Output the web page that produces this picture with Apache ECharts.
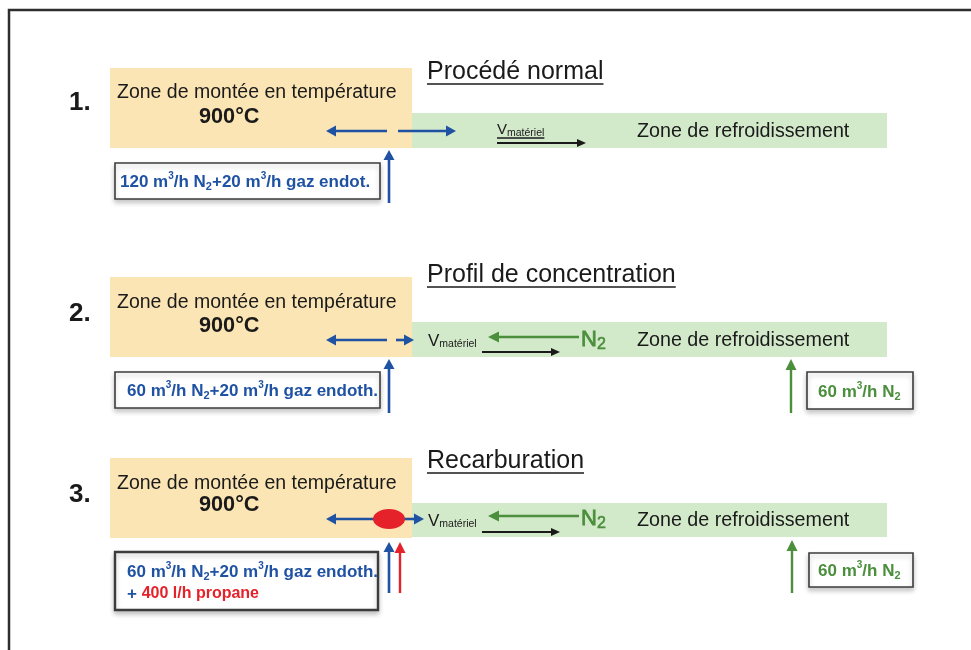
<!DOCTYPE html>
<html><head><meta charset="utf-8">
<script src="https://cdn.jsdelivr.net/npm/echarts@6/dist/echarts.min.js"></script>
<style>html,body{margin:0;padding:0;background:#fff}#c{width:971px;height:650px}</style>
</head><body><div id="c"></div>
<script>
// ---------- process data ----------
const panelNumbers = ['1.', '2.', '3.'];
const panelTitles = ['Procédé normal', 'Profil de concentration', 'Recarburation'];
const zoneHeatLabel = 'Zone de montée en température';
const zoneCoolLabel = 'Zone de refroidissement';
const heatTemperature = [900, 900, 900];          // °C
const n2Inlet = [120, 60, 60];                    // m³/h N2 (heating-zone inlet)
const endoGas = [20, 20, 20];                     // m³/h endothermic gas
const endoSuffix = ['gaz endot.', 'gaz endoth.', 'gaz endoth.'];
const propane = [null, null, 400];                // l/h propane
const n2Cooling = [null, 60, 60];                 // m³/h N2 (cooling-zone inlet)

// ---------- diagram layout (units of the hidden axes) ----------
const heatZones = [[110, 68, 412, 148], [110, 277, 412, 357], [110, 458, 412, 538]];
const coolZones = [[412, 113, 887, 148], [412, 322, 887, 357], [412, 503, 887, 537]];
const inletBoxes = [[115, 163, 380, 199], [115, 372, 380, 408], [115, 552, 378, 610]];
const coolBoxes = [[807, 372, 913, 409], [809, 553, 913, 587]];
const blueArrows = [
  [387, 131, 326, 131], [398, 131, 456, 131], [389, 203, 389, 150],
  [387, 340, 326, 340], [396, 340, 414, 340], [389, 413, 389, 359],
  [376, 519, 326, 519], [402, 519, 424, 519], [389, 593, 389, 542]
];
const blackArrows = [[497, 143, 586, 143], [482, 352, 560, 352], [482, 532, 560, 532]];
const greenArrows = [[579, 337, 488, 337], [579, 516, 488, 516], [791, 413, 791, 359], [792, 593, 792, 540]];
const redArrows = [[400, 593, 400, 542]];
const injectionSpots = [[389, 519, 16, 10]];
const numberAnchors = [[69, 103], [69, 314], [69, 495]];
const titleAnchors = [[427, 72], [427, 275], [427, 461]];
const heatLabelAnchors = [[117, 93], [117, 303], [117, 484]];
const tempAnchors = [[199, 117], [199, 326], [199, 505]];
const coolLabelAnchors = [[637, 132], [637, 341], [637, 521]];
const vAnchors = [[497, 130], [428, 341], [428, 521]];
const n2LabelAnchors = [null, [581, 340], [581, 519]];
const inletTextAnchors = [[120, 182], [127, 391], [127, 572]];
const propaneAnchors = [null, null, [127, 594]];
const coolTextAnchors = [null, [818, 392], [818, 571]];
const frameRect = [[9, 10, 1000, 700]];

// ---------- styles ----------
const FONT = '"Liberation Sans", Arial, Helvetica, sans-serif';
const COL = {
  yellow: '#fbe5b5', green: '#d2e9ca', blue: '#1f52a3', black: '#1a1a1a',
  green2: '#4b8e3c', red: '#e5212a', frame: '#2e2e2e', box: '#3c3c3c'
};
const mctx = document.createElement('canvas').getContext('2d');
function textWidth(t, font) { mctx.font = font; return mctx.measureText(t).width; }

function richFlow(color, size) {
  return {
    b: { fontFamily: FONT, fontWeight: 'bold', fontSize: size, fill: color, lineHeight: 21 },
    bl: { fontFamily: FONT, fontWeight: 'bold', fontSize: size, fill: COL.blue, lineHeight: 21 },
    r: { fontFamily: FONT, fontWeight: 'bold', fontSize: size - 1, fill: COL.red, lineHeight: 21 },
    sup: { fontFamily: FONT, fontWeight: 'bold', fontSize: 10, fill: color, lineHeight: 13, verticalAlign: 'top' },
    sub: { fontFamily: FONT, fontWeight: 'bold', fontSize: 11, fill: color, lineHeight: 13, verticalAlign: 'bottom' }
  };
}

// ---------- texts built from the data arrays ----------
const texts = [];
function addText(pos, style, underline) { if (pos) texts.push({ pos, style, underline }); }
for (let i = 0; i < 3; i++) {
  const tf = '25px ' + FONT;
  addText(numberAnchors[i], { text: panelNumbers[i], font: 'bold 26px ' + FONT, fill: COL.black });
  addText(titleAnchors[i], { text: panelTitles[i], font: tf, fill: COL.black },
    { w: textWidth(panelTitles[i], tf), dy: 12 });
  addText(heatLabelAnchors[i], { text: zoneHeatLabel, font: '19.5px ' + FONT, fill: COL.black });
  addText(tempAnchors[i], { text: heatTemperature[i] + '°C', font: 'bold 21.7px ' + FONT, fill: COL.black });
  addText(coolLabelAnchors[i], { text: zoneCoolLabel, font: '19.7px ' + FONT, fill: COL.black });
  const vs = i === 0 ? 15 : 17, ms = 10.5;
  addText(vAnchors[i], {
    text: '{v|V}{m|matériel}', font: vs + 'px ' + FONT, fill: COL.black,
    rich: {
      v: { fontFamily: FONT, fontSize: vs, fill: COL.black, lineHeight: 18 },
      m: { fontFamily: FONT, fontSize: ms, fill: COL.black, lineHeight: 12, verticalAlign: 'bottom' }
    }
  }, i === 0 ? { w: textWidth('V', vs + 'px ' + FONT) + textWidth('matériel', ms + 'px ' + FONT), dy: 8 } : null);
  addText(n2LabelAnchors[i], {
    text: '{n|N}{s|2}', font: '22px ' + FONT, fill: COL.green2,
    rich: {
      n: { fontFamily: FONT, fontSize: 22, fill: COL.green2, stroke: COL.green2, lineWidth: 0.8, lineHeight: 26 },
      s: { fontFamily: FONT, fontSize: 16, fill: COL.green2, stroke: COL.green2, lineWidth: 0.6, lineHeight: 16, verticalAlign: 'bottom' }
    }
  });
  addText(inletTextAnchors[i], {
    text: `{b|${n2Inlet[i]} m}{sup|3}{b|/h N}{sub|2}{b|+${endoGas[i]} m}{sup|3}{b|/h ${endoSuffix[i]}}`,
    font: 'bold 17px ' + FONT, fill: COL.blue, rich: richFlow(COL.blue, 17)
  });
  if (propane[i] != null) {
    addText(propaneAnchors[i], {
      text: `{bl|+ }{r|${propane[i]} l/h propane}`, font: 'bold 16px ' + FONT, fill: COL.red,
      rich: richFlow(COL.blue, 17)
    });
  }
  if (n2Cooling[i] != null) {
    addText(coolTextAnchors[i], {
      text: `{b|${n2Cooling[i]} m}{sup|3}{b|/h N}{sub|2}`,
      font: 'bold 17px ' + FONT, fill: COL.green2, rich: richFlow(COL.green2, 17)
    });
  }
}

// ---------- renderers ----------
function rectFromValues(api) {
  const p0 = api.coord([api.value(0), api.value(1)]);
  const p1 = api.coord([api.value(2), api.value(3)]);
  return { x: p0[0], y: p0[1], width: p1[0] - p0[0], height: p1[1] - p0[1] };
}
function zoneSeries(data, color) {
  return {
    type: 'custom', data, clip: false, silent: true, z: 1,
    renderItem: (p, api) => ({ type: 'rect', shape: rectFromValues(api), style: { fill: color } })
  };
}
function boxSeries(data, lw) {
  return {
    type: 'custom', data, clip: false, silent: true, z: 3,
    renderItem: (p, api) => ({
      type: 'rect', shape: rectFromValues(api),
      style: { fill: '#fff', stroke: COL.box, lineWidth: lw, shadowBlur: 5, shadowOffsetY: 3, shadowColor: 'rgba(0,0,0,0.22)' }
    })
  };
}
function arrowSeries(data, color, lw, head, half) {
  return {
    type: 'custom', data, clip: false, silent: true, z: 4,
    renderItem: (p, api) => {
      const a = api.coord([api.value(0), api.value(1)]);
      const b = api.coord([api.value(2), api.value(3)]);
      const dx = b[0] - a[0], dy = b[1] - a[1], len = Math.hypot(dx, dy);
      const ux = dx / len, uy = dy / len, nx = -uy, ny = ux;
      const bx = b[0] - ux * head, by = b[1] - uy * head;
      return {
        type: 'group', children: [
          { type: 'line', shape: { x1: a[0], y1: a[1], x2: bx + ux, y2: by + uy }, style: { stroke: color, lineWidth: lw } },
          { type: 'polygon', shape: { points: [[b[0], b[1]], [bx + nx * half, by + ny * half], [bx - nx * half, by - ny * half]] }, style: { fill: color } }
        ]
      };
    }
  };
}

const option = {
  animation: false,
  backgroundColor: '#ffffff',
  grid: { left: 0, right: 0, top: 0, bottom: 0 },
  xAxis: { type: 'value', min: 0, max: 971, show: false },
  yAxis: { type: 'value', min: 0, max: 650, inverse: true, show: false },
  series: [
    {
      type: 'custom', data: frameRect, clip: false, silent: true, z: 0,
      renderItem: (p, api) => ({ type: 'rect', shape: rectFromValues(api), style: { fill: 'none', stroke: COL.frame, lineWidth: 2.5 } })
    },
    zoneSeries(heatZones, COL.yellow),
    zoneSeries(coolZones, COL.green),
    boxSeries(inletBoxes.slice(0, 2), 1.6),
    boxSeries(inletBoxes.slice(2), 2.4),
    boxSeries(coolBoxes, 1.6),
    arrowSeries(blueArrows, COL.blue, 2.6, 10, 5.5),
    arrowSeries(blackArrows, COL.black, 2, 9, 4),
    arrowSeries(greenArrows, COL.green2, 2.4, 11, 5.5),
    arrowSeries(redArrows, COL.red, 2.4, 11, 5.5),
    {
      type: 'custom', data: injectionSpots, clip: false, silent: true, z: 5,
      renderItem: (p, api) => {
        const c = api.coord([api.value(0), api.value(1)]);
        const s = api.size([api.value(2), api.value(3)]);
        return { type: 'ellipse', shape: { cx: c[0], cy: c[1], rx: s[0], ry: s[1] }, style: { fill: COL.red } };
      }
    },
    {
      type: 'custom', data: texts.map(t => t.pos), clip: false, silent: true, z: 6,
      renderItem: (p, api) => {
        const t = texts[p.dataIndex];
        const c = api.coord([api.value(0), api.value(1)]);
        const children = [{
          type: 'text', x: c[0], y: c[1],
          style: Object.assign({ align: 'left', verticalAlign: 'middle' }, t.style)
        }];
        if (t.underline) {
          const y = c[1] + t.underline.dy;
          children.push({ type: 'line', shape: { x1: c[0], y1: y, x2: c[0] + t.underline.w, y2: y }, style: { stroke: COL.black, lineWidth: 1.6 } });
        }
        return { type: 'group', children };
      }
    }
  ]
};
echarts.init(document.getElementById('c')).setOption(option);
</script>
</body></html>
